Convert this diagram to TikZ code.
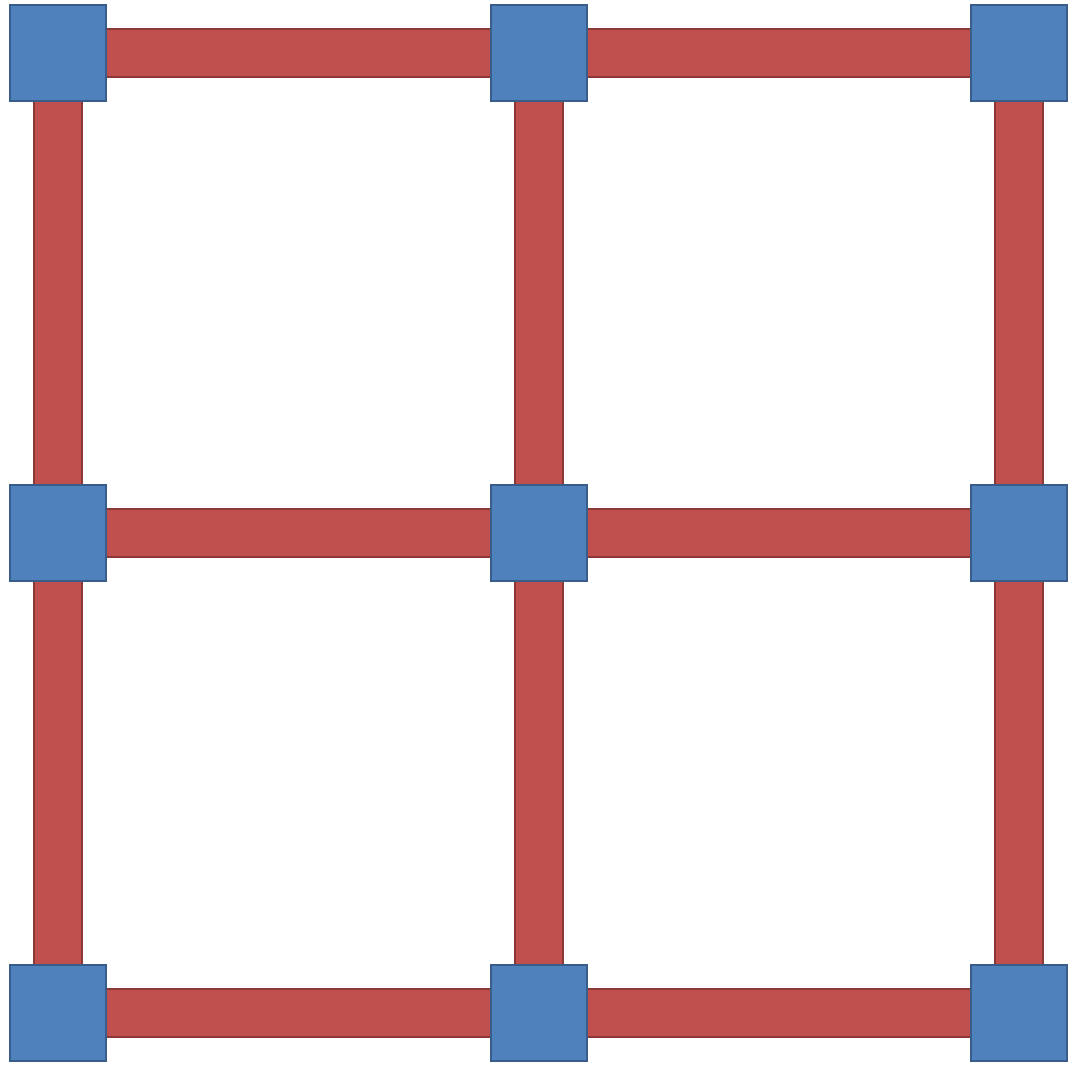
\documentclass[tikz,border=0pt]{standalone}
\usetikzlibrary{backgrounds}
\definecolor{nodefill}{HTML}{4F81BD}
\definecolor{nodeline}{HTML}{385D8A}
\definecolor{barfill}{HTML}{C0504D}
\definecolor{barline}{HTML}{8C3836}
\tikzset{
  sq/.style={rectangle, fill=nodefill, draw=nodeline, line width=2pt, minimum size=96pt, inner sep=0pt, outer sep=0pt},
  bar/.style={draw=barline, line width=2pt, double=barfill, double distance=46pt}
}
\begin{document}
\begin{tikzpicture}[x=1pt,y=-1pt]
\useasboundingbox (0,0) rectangle (1069,1067);
\node[sq] (a1) at (58,53) {};
\node[sq] (a2) at (538.5,53) {};
\node[sq] (a3) at (1019,53) {};
\node[sq] (b1) at (58,533) {};
\node[sq] (b2) at (538.5,533) {};
\node[sq] (b3) at (1019,533) {};
\node[sq] (c1) at (58,1013) {};
\node[sq] (c2) at (538.5,1013) {};
\node[sq] (c3) at (1019,1013) {};
\begin{scope}[on background layer]
\draw[bar] (a1) -- (a2);
\draw[bar] (a2) -- (a3);
\draw[bar] (b1) -- (b2);
\draw[bar] (b2) -- (b3);
\draw[bar] (c1) -- (c2);
\draw[bar] (c2) -- (c3);
\draw[bar] (a1) -- (b1);
\draw[bar] (b1) -- (c1);
\draw[bar] (a2) -- (b2);
\draw[bar] (b2) -- (c2);
\draw[bar] (a3) -- (b3);
\draw[bar] (b3) -- (c3);
\end{scope}
\end{tikzpicture}
\end{document}
